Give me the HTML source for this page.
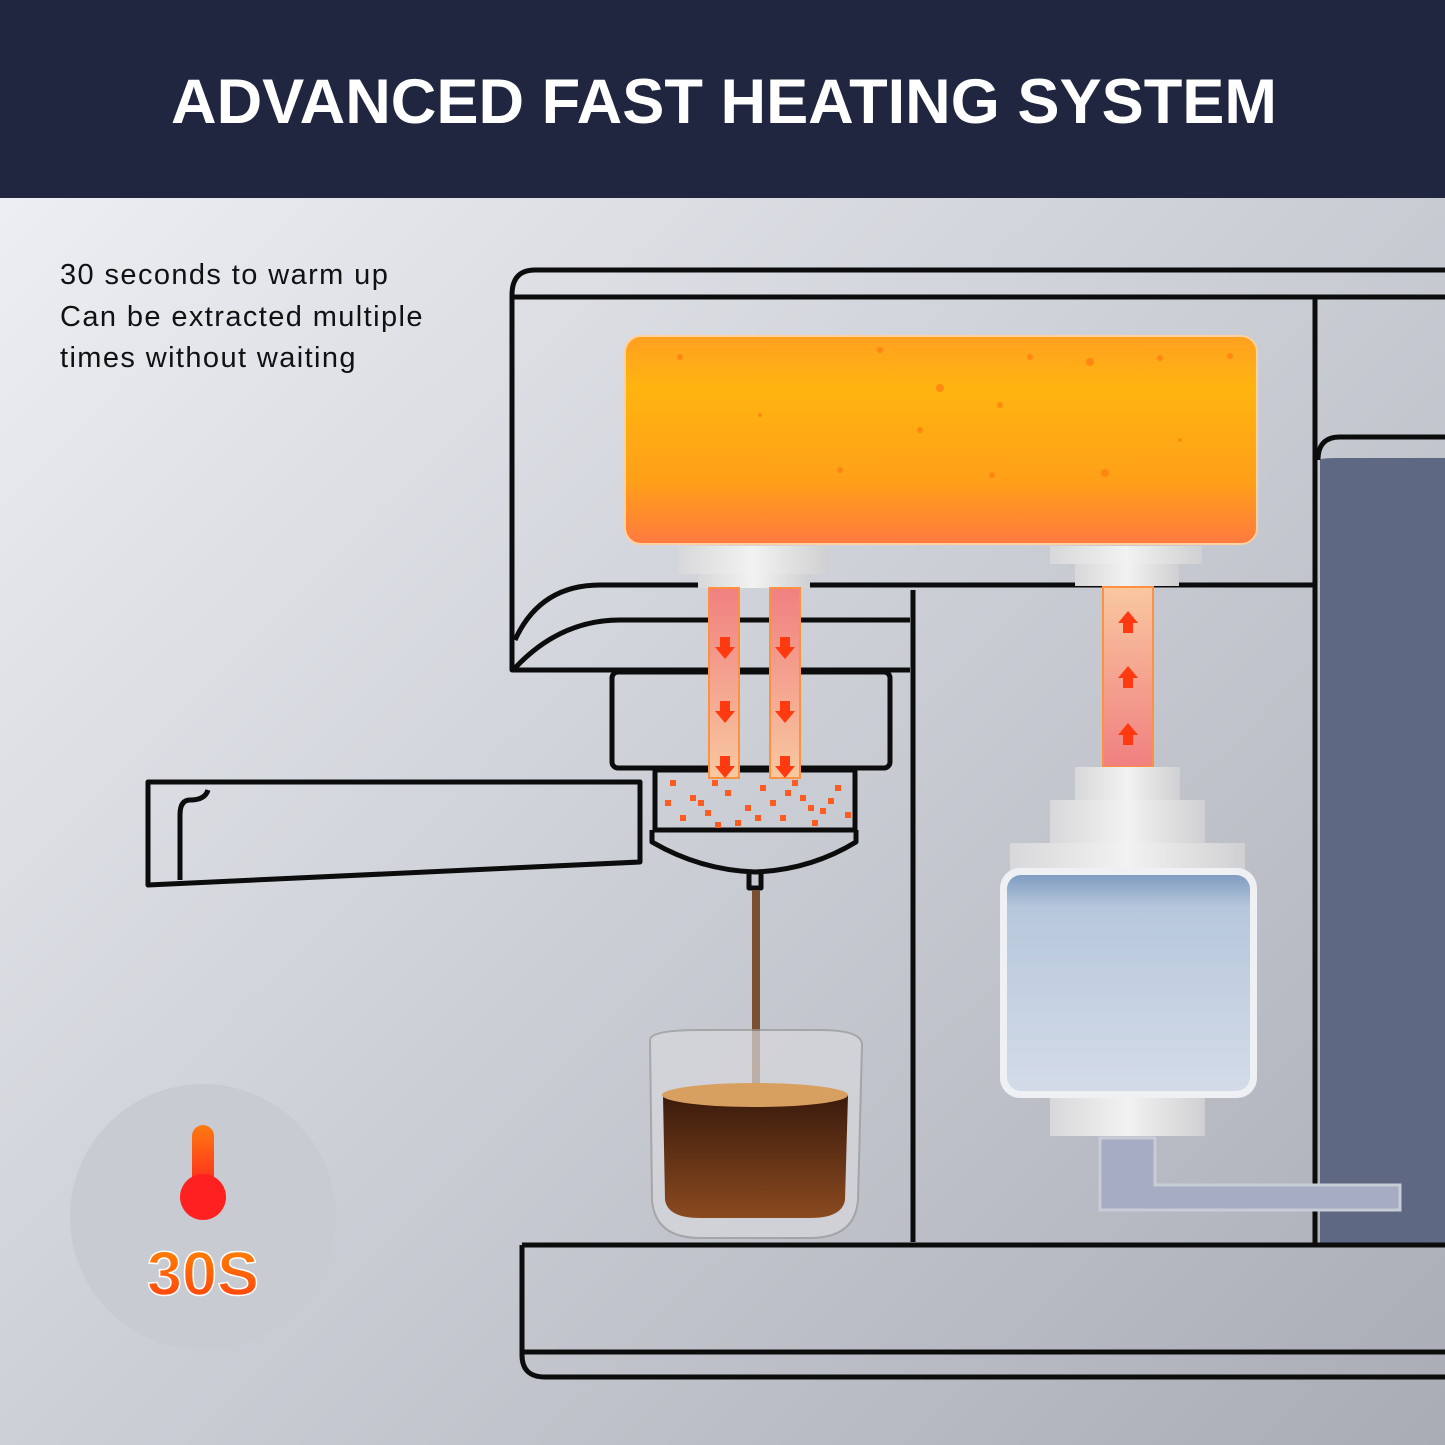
<!DOCTYPE html>
<html><head><meta charset="utf-8"><style>
html,body{margin:0;padding:0;width:1445px;height:1445px;overflow:hidden;font-family:"Liberation Sans",sans-serif}
</style></head><body>
<svg width="1445" height="1445" viewBox="0 0 1445 1445" xmlns="http://www.w3.org/2000/svg">
<defs>
<linearGradient id="bg" x1="0" y1="0" x2="1" y2="1">
<stop offset="0" stop-color="#f2f3f7"/><stop offset="0.5" stop-color="#cdd0d7"/><stop offset="1" stop-color="#a9acb5"/>
</linearGradient>
<linearGradient id="boil" x1="0" y1="0" x2="0" y2="1">
<stop offset="0" stop-color="#ffa020"/><stop offset="0.25" stop-color="#ffb410"/><stop offset="0.7" stop-color="#ffa018"/><stop offset="1" stop-color="#ff7a40"/>
</linearGradient>
<linearGradient id="pipe" x1="0" y1="0" x2="0" y2="1">
<stop offset="0" stop-color="#f08080"/><stop offset="1" stop-color="#f8c8a0"/>
</linearGradient>
<linearGradient id="pipeU" x1="0" y1="1" x2="0" y2="0">
<stop offset="0" stop-color="#f08080"/><stop offset="1" stop-color="#f8c8a0"/>
</linearGradient>
<linearGradient id="cyl" x1="0" y1="0" x2="1" y2="0">
<stop offset="0" stop-color="#d8d8da"/><stop offset="0.5" stop-color="#f2f2f2"/><stop offset="1" stop-color="#d0d0d2"/>
</linearGradient>
<linearGradient id="water" x1="0" y1="0" x2="0" y2="1">
<stop offset="0" stop-color="#7f9cc0"/><stop offset="0.15" stop-color="#b7c7dc"/><stop offset="1" stop-color="#d3dbe8"/>
</linearGradient>
<linearGradient id="therm" x1="0" y1="0" x2="0" y2="1">
<stop offset="0" stop-color="#ff7a10"/><stop offset="1" stop-color="#ff2020"/>
</linearGradient>
<linearGradient id="txt" x1="0" y1="0" x2="0" y2="1">
<stop offset="0" stop-color="#ff8a00"/><stop offset="1" stop-color="#ff3a10"/>
</linearGradient>
<linearGradient id="coffee" x1="0" y1="0" x2="0" y2="1">
<stop offset="0" stop-color="#3a1a0c"/><stop offset="1" stop-color="#8a4a20"/>
</linearGradient>
</defs>
<rect width="1445" height="1445" fill="url(#bg)"/>
<rect width="1445" height="198" fill="#212640"/>
<text x="724" y="123" text-anchor="middle" font-size="63" font-weight="bold" fill="#fff" textLength="1106" lengthAdjust="spacingAndGlyphs">ADVANCED FAST HEATING SYSTEM</text>
<g font-size="29" fill="#111" letter-spacing="1.4">
<text x="60" y="284">30 seconds to warm up</text>
<text x="60" y="326">Can be extracted multiple</text>
<text x="60" y="367">times without waiting</text>
</g>
<path d="M1320 460 Q1320 458 1340 458 L1445 458 L1445 1245 L1320 1245 Z" fill="#5f6883"/>
<g fill="none" stroke="#0c0c0c" stroke-width="5" stroke-linejoin="round">
<path d="M1445 270 L535 270 Q512 270 512 295 L512 670 L910 670"/>
<path d="M514 297 L1445 297"/>
<path d="M1315 297 L1315 1245"/>
<path d="M1445 437 L1340 437 Q1318 437 1318 460"/>
<path d="M910 585 L1313 585"/>
<path d="M515 640 Q540 585 600 585 L910 585 M515 668 Q560 620 620 620 L910 620"/>
<path d="M913 590 L913 1242"/>
<rect x="612" y="672" width="278" height="96" rx="6"/>
<path d="M655 770 L855 770 L855 830 L655 830 Z"/>
<path d="M652 830 L652 842 Q700 870 755 872 Q810 870 856 842 L856 830"/>
<path d="M749 872 L749 888 L761 888 L761 872"/>
<path d="M148 782 L640 782 L640 862 L148 885 Z"/>
<path d="M208 790 Q205 800 190 800 Q180 800 180 815 L180 880"/>
<path d="M522 1245 L1445 1245 M522 1245 L522 1355 Q522 1377 545 1377 L1445 1377 M524 1352 L1445 1352"/>
</g>
<rect x="625" y="336" width="632" height="208" rx="16" fill="url(#boil)" stroke="#ffd0a0" stroke-width="2"/>
<g fill="#ff7a10" opacity="0.7">
<circle cx="680" cy="357" r="3"/><circle cx="880" cy="350" r="3"/><circle cx="1090" cy="362" r="4"/><circle cx="1160" cy="358" r="3"/><circle cx="940" cy="388" r="4"/><circle cx="1030" cy="357" r="3"/><circle cx="1000" cy="405" r="3"/><circle cx="1230" cy="356" r="3"/><circle cx="1105" cy="473" r="4"/><circle cx="992" cy="475" r="3"/><circle cx="840" cy="470" r="3"/><circle cx="920" cy="430" r="3"/><circle cx="760" cy="415" r="2"/><circle cx="1180" cy="440" r="2"/>
</g>
<rect x="678" y="546" width="150" height="28" fill="url(#cyl)"/>
<rect x="698" y="574" width="112" height="14" fill="url(#cyl)"/>
<rect x="1050" y="546" width="152" height="18" fill="url(#cyl)"/>
<rect x="1075" y="564" width="104" height="22" fill="url(#cyl)"/>
<rect x="709" y="588" width="30" height="190" fill="url(#pipe)" stroke="#ff9040" stroke-width="2"/>
<rect x="770" y="588" width="30" height="190" fill="url(#pipe)" stroke="#ff9040" stroke-width="2"/>
<rect x="1103" y="587" width="50" height="180" fill="url(#pipeU)" stroke="#ff9040" stroke-width="2"/>
<g fill="#ff3a10">
<path d="M720 637h10v10h5l-10 12-10-12h5z"/><path d="M780 637h10v10h5l-10 12-10-12h5z"/>
<path d="M720 701h10v10h5l-10 12-10-12h5z"/><path d="M780 701h10v10h5l-10 12-10-12h5z"/>
<path d="M720 756h10v10h5l-10 12-10-12h5z"/><path d="M780 756h10v10h5l-10 12-10-12h5z"/>
<path d="M1123 633h10v-10h5l-10-12-10 12h5z"/><path d="M1123 688h10v-10h5l-10-12-10 12h5z"/><path d="M1123 745h10v-10h5l-10-12-10 12h5z"/>
</g>
<g fill="#ff5a20">
<rect x="670" y="780" width="6" height="6"/><rect x="690" y="795" width="6" height="6"/><rect x="705" y="810" width="6" height="6"/><rect x="725" y="790" width="6" height="6"/><rect x="745" y="805" width="6" height="6"/><rect x="760" y="785" width="6" height="6"/><rect x="780" y="815" width="6" height="6"/><rect x="800" y="795" width="6" height="6"/><rect x="820" y="808" width="6" height="6"/><rect x="835" y="785" width="6" height="6"/><rect x="680" y="815" width="6" height="6"/><rect x="712" y="780" width="6" height="6"/><rect x="735" y="820" width="6" height="6"/><rect x="770" y="800" width="6" height="6"/><rect x="792" y="780" width="6" height="6"/><rect x="812" y="820" width="6" height="6"/><rect x="665" y="800" width="6" height="6"/><rect x="698" y="800" width="6" height="6"/><rect x="755" y="815" width="6" height="6"/><rect x="828" y="798" width="6" height="6"/><rect x="845" y="812" width="6" height="6"/><rect x="715" y="822" width="6" height="6"/><rect x="785" y="790" width="6" height="6"/><rect x="808" y="805" width="6" height="6"/>
</g>
<rect x="1075" y="767" width="105" height="35" fill="url(#cyl)"/>
<rect x="1050" y="800" width="155" height="45" fill="url(#cyl)"/>
<rect x="1010" y="843" width="235" height="30" fill="url(#cyl)"/>
<rect x="1000" y="868" width="257" height="230" rx="20" fill="#eef0f4"/>
<rect x="1007" y="875" width="243" height="216" rx="14" fill="url(#water)"/>
<rect x="1050" y="1098" width="155" height="38" fill="url(#cyl)"/>
<path d="M1100 1138 L1100 1210 L1400 1210 L1400 1185 L1155 1185 L1155 1138 Z" fill="#a6adc2" stroke="#c8ccd6" stroke-width="3"/>
<rect x="752" y="890" width="8" height="200" fill="#7a5030"/>
<path d="M650 1040 Q650 1030 700 1030 L820 1030 Q862 1030 862 1045 L858 1200 Q855 1238 810 1238 L700 1238 Q655 1238 652 1200 Z" fill="#d8d8dc" opacity="0.7" stroke="#999" stroke-width="2"/>
<path d="M663 1095 L848 1095 L845 1200 Q842 1218 810 1218 L700 1218 Q668 1218 665 1200 Z" fill="url(#coffee)"/>
<ellipse cx="755" cy="1095" rx="93" ry="12" fill="#d8a060"/>
<circle cx="203" cy="1217" r="133" fill="#c9cbd2"/>
<rect x="192" y="1125" width="22" height="70" rx="11" fill="url(#therm)"/>
<circle cx="203" cy="1197" r="23" fill="#ff2020"/>
<text x="203" y="1295" text-anchor="middle" font-size="62" font-weight="bold" fill="url(#txt)" stroke="#fff" stroke-width="1.5" textLength="112" lengthAdjust="spacingAndGlyphs">30S</text>
</svg>
</body></html>
